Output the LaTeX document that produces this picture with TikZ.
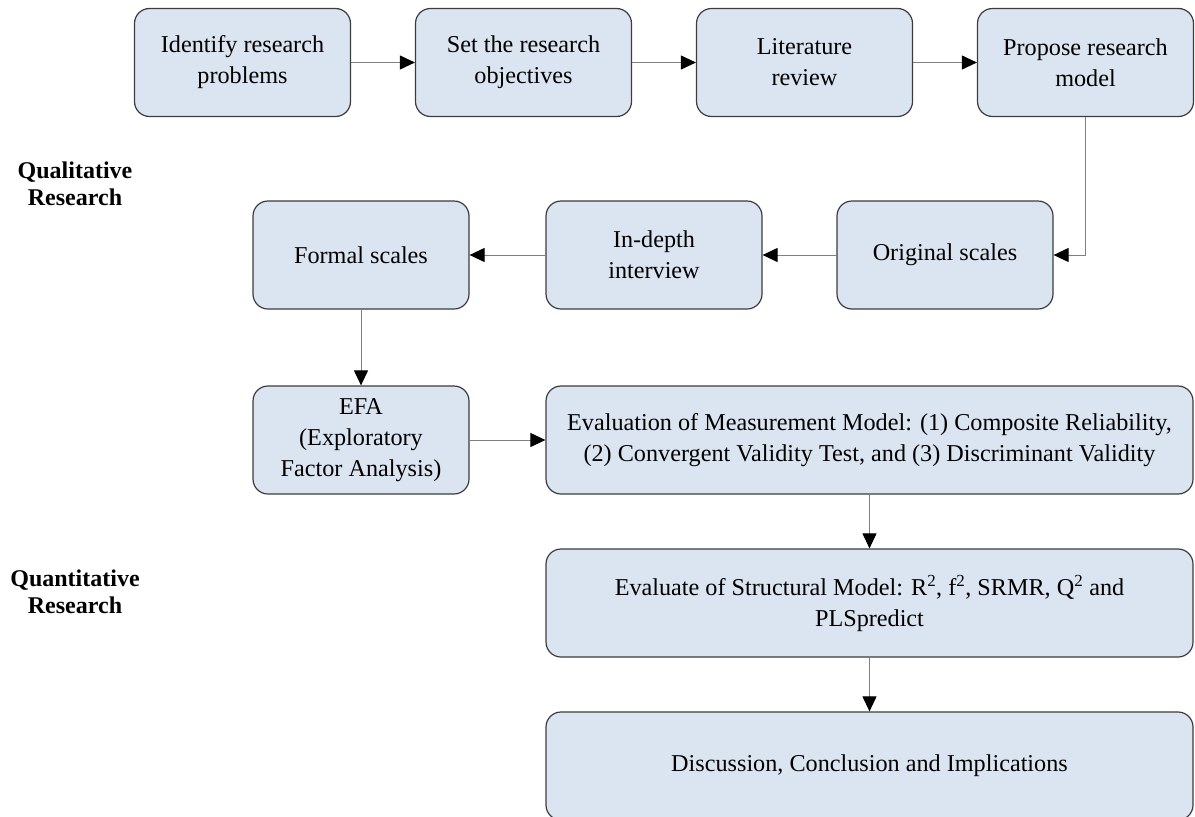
\documentclass[tikz,border=0pt]{standalone}
\usepackage{fontspec}
\setmainfont{Liberation Serif}
\usepackage{tikz}
\definecolor{boxfill}{HTML}{DBE5F1}
\definecolor{boxline}{HTML}{3C3C3C}
\definecolor{linegray}{HTML}{808080}
\usetikzlibrary{arrows.meta}
\tikzstyle{stage}=[rectangle, rounded corners=15pt, draw=boxline, fill=boxfill, line width=1.2pt, minimum width=216pt, minimum height=108pt, align=center, font=\fontsize{24.2}{31}\selectfont]
\tikzstyle{widestage}=[stage, minimum width=647pt]
\tikzstyle{flow}=[draw=linegray, line width=1pt, -{Triangle[length=15pt,width=14pt,color=black]}]
\tikzstyle{phase}=[align=center, font=\fontsize{24}{27}\selectfont\bfseries]

\begin{document}
\begin{tikzpicture}[x=1pt, y=-1pt]
			\useasboundingbox (0,0) rectangle (1195,817);
			\node[stage] (problem) at (242.5,62.5) {Identify research\\problems};
			\node[stage] (objective) at (523.5,62.5) {Set the research\\objectives};
			\node[stage] (literature) at (804.5,62.5) {Literature\\review};
			\node[stage] (model) at (1085.5,62.5) {Propose research\\model};
			\node[stage] (formal) at (361,255) {Formal scales};
			\node[stage] (interview) at (654,255) {In-depth\\interview};
			\node[stage] (original) at (945,255) {Original scales};
			\node[stage] (efa) at (361,440) {EFA\\(Exploratory\\Factor Analysis)};
			\node[widestage] (measure) at (869.5,440) {Evaluation of Measurement Model: (1) Composite Reliability,\\(2) Convergent Validity Test, and (3) Discriminant Validity};
			\node[widestage] (structure) at (869.5,603) {Evaluate of Structural Model: R\textsuperscript{2}, f\textsuperscript{2}, SRMR, Q\textsuperscript{2} and\\PLSpredict};
			\node[widestage] (discussion) at (869.5,766) {Discussion, Conclusion and Implications};
			\node[phase] (qual) at (75,184) {Qualitative\\Research};
			\node[phase] (quant) at (75,592) {Quantitative\\Research};
			\path[flow] (problem)--(objective);
			\path[flow] (objective)--(literature);
			\path[flow] (literature)--(model);
			\path[flow] (model.south) |- (original.east);
			\path[flow] (original)--(interview);
			\path[flow] (interview)--(formal);
			\path[flow] (formal)--(efa);
			\path[flow] (efa)--(measure);
			\path[flow] (measure)--(structure);
			\path[flow] (structure)--(discussion);
		\end{tikzpicture}
\end{document}
